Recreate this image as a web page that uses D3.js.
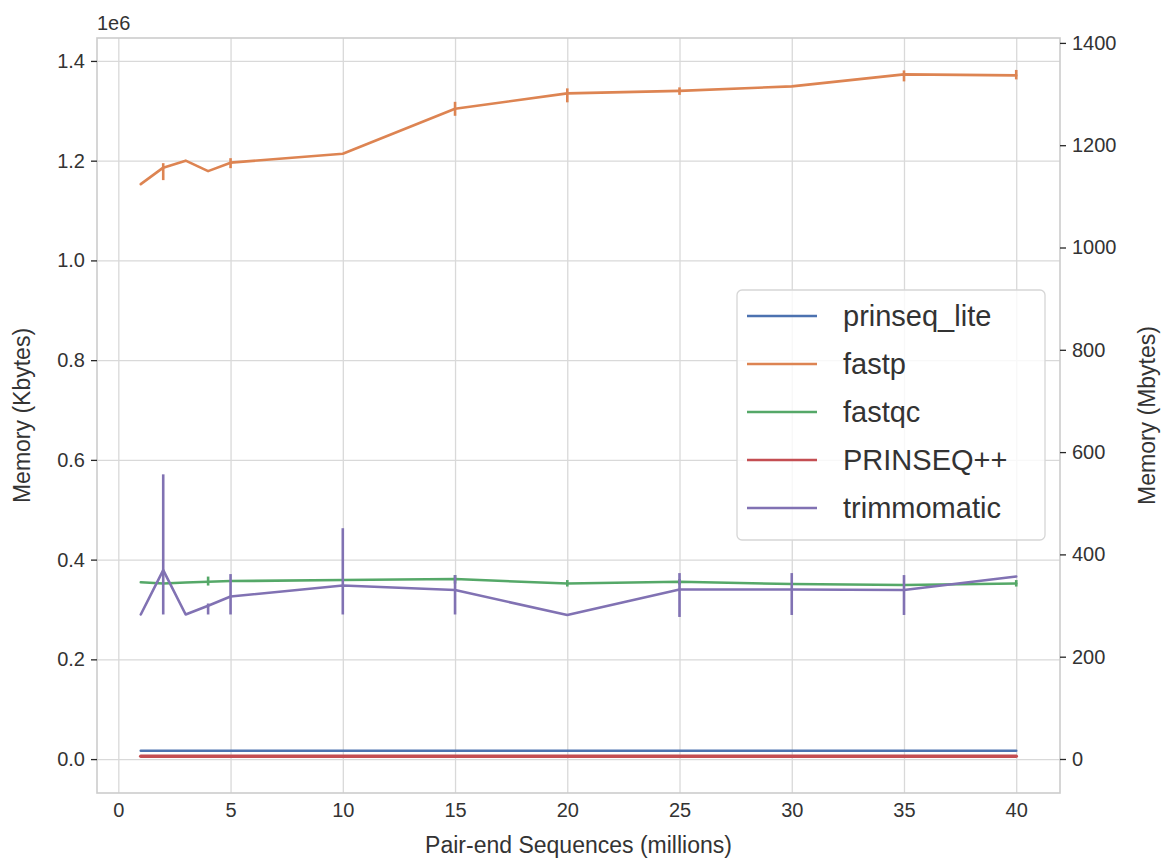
<!DOCTYPE html>
<html lang="en">
<head>
  <meta charset="UTF-8">
  <title>Memory vs Pair-end Sequences</title>
  <script src="https://d3js.org/d3.v7.min.js"></script>
  <style>
    body { margin: 0; background: #fff; }
    svg text { font-family: "Liberation Sans", Arial, sans-serif; fill: #333333; }
    .grid line { stroke: #d9d9d9; stroke-width: 1.3px; }
    .grid path { display: none; }
    .axis path { display: none; }
    .axis line { stroke: #262626; stroke-width: 1.3px; }
    .axis text { font-size: 20px; }
  </style>
</head>
<body>
  <svg id="chart" width="1163" height="861"></svg>

  <script>
    // sequences (millions)
    const xs = [1, 2, 3, 4, 5, 10, 15, 20, 25, 30, 35, 40];

    // mean memory in Kbytes
    const prinseqLite = [16700, 16700, 16700, 16700, 16700, 16700, 16700, 16700, 16700, 16700, 16700, 16700];
    const fastp = [1153000, 1186000, 1200000, 1179000, 1196000, 1214000, 1304000, 1335000, 1340000, 1349000, 1373000, 1371000];
    const fastqc = [354500, 352000, 354000, 355700, 357000, 359000, 361000, 352000, 355700, 351000, 349000, 352000];
    const prinseqPP = [5800, 5800, 5800, 5800, 5800, 5800, 5800, 5800, 5800, 5800, 5800, 5800];
    const trimmomatic = [290000, 379000, 290000, 307500, 326000, 348000, 339000, 289000, 340000, 340000, 339000, 366000];

    // error bar ranges [low, high]; null = no visible bar
    const fastpErr = [null, [1161000, 1195000], null, null, [1185000, 1205000], null,
      [1290000, 1318000], [1317000, 1345000], [1332000, 1347000], null, [1359000, 1381000], [1363000, 1382000]];
    const fastqcErr = [null, null, null, [348000, 366000], null, null,
      [352000, 369000], [346000, 359000], [350000, 361000], null, null, [346000, 359000]];
    const trimErr = [null, [290000, 571000], null, [290000, 312000], [290000, 371000], [290000, 463000],
      [290000, 369000], null, [285000, 373000], [289000, 373000], [289000, 369000], null];

    const seriesNames = ["prinseq_lite", "fastp", "fastqc", "PRINSEQ++", "trimmomatic"];
    const seriesColors = ["#4c72b0", "#dd8452", "#55a868", "#c44e52", "#8172b3"];
    const seriesValues = [prinseqLite, fastp, fastqc, prinseqPP, trimmomatic];
    const seriesErrs = [null, fastpErr, fastqcErr, null, trimErr];
    const seriesWidths = [2.6, 2.6, 2.6, 3.6, 2.6];

    const xTicks = [0, 5, 10, 15, 20, 25, 30, 35, 40];
    const yLeftTicks = [0, 200000, 400000, 600000, 800000, 1000000, 1200000, 1400000];
    const yRightTicks = [0, 200, 400, 600, 800, 1000, 1200, 1400];

    const margin = { top: 38, right: 103, bottom: 68, left: 97 };
    const width = 1163, height = 861;
    const x0 = margin.left, x1 = width - margin.right;
    const y0 = height - margin.bottom, y1 = margin.top;

    const svg = d3.select("#chart");

    const xScale = d3.scaleLinear().domain([-0.95, 41.95]).range([x0, x1]);
    const yLeft = d3.scaleLinear().domain([-68000, 1446000]).range([y0, y1]);
    const yRight = d3.scaleLinear().domain([-66.5, 1409.6]).range([y0, y1]);

    // grid
    svg.append("g").attr("class", "grid")
      .attr("transform", `translate(0, ${y0})`)
      .call(d3.axisBottom(xScale).tickValues(xTicks).tickSize(-(y0 - y1)).tickFormat(""));
    svg.append("g").attr("class", "grid")
      .attr("transform", `translate(${x0}, 0)`)
      .call(d3.axisLeft(yLeft).tickValues(yLeftTicks).tickSize(-(x1 - x0)).tickFormat(""));

    // frame
    svg.append("rect")
      .attr("x", x0).attr("y", y1)
      .attr("width", x1 - x0).attr("height", y0 - y1)
      .attr("fill", "none").attr("stroke", "#cccccc").attr("stroke-width", 1.6);

    // lines + error bars
    const line = d3.line()
      .x((d, i) => xScale(xs[i]))
      .y(d => yLeft(d));

    seriesValues.forEach((vals, k) => {
      const g = svg.append("g");
      const errs = seriesErrs[k];
      if (errs) {
        g.selectAll("line")
          .data(errs.map((e, i) => ({ e, x: xs[i] })).filter(d => d.e))
          .join("line")
          .attr("x1", d => xScale(d.x)).attr("x2", d => xScale(d.x))
          .attr("y1", d => yLeft(d.e[0])).attr("y2", d => yLeft(d.e[1]))
          .attr("stroke", seriesColors[k]).attr("stroke-width", 2.6);
      }
      g.append("path")
        .datum(vals)
        .attr("d", line)
        .attr("fill", "none")
        .attr("stroke", seriesColors[k])
        .attr("stroke-width", seriesWidths[k])
        .attr("stroke-linejoin", "round")
        .attr("stroke-linecap", "round");
    });

    // axes
    svg.append("g").attr("class", "axis")
      .attr("transform", `translate(0, ${y0})`)
      .call(d3.axisBottom(xScale).tickValues(xTicks).tickSize(0).tickPadding(10));

    svg.append("g").attr("class", "axis")
      .attr("transform", `translate(${x0}, 0)`)
      .call(d3.axisLeft(yLeft).tickValues(yLeftTicks).tickSize(6).tickPadding(6)
        .tickFormat(d => (d / 1e6).toFixed(1)));

    svg.append("g").attr("class", "axis")
      .attr("transform", `translate(${x1}, 0)`)
      .call(d3.axisRight(yRight).tickValues(yRightTicks).tickSize(6).tickPadding(6)
        .tickFormat(d3.format("d")));

    // offset text
    svg.append("text")
      .attr("x", 97).attr("y", 30)
      .attr("font-size", 20)
      .text("1e6");

    // axis labels
    svg.append("text")
      .attr("x", (x0 + x1) / 2).attr("y", 853)
      .attr("text-anchor", "middle")
      .attr("font-size", 23)
      .text("Pair-end Sequences (millions)");

    svg.append("text")
      .attr("transform", `translate(30, ${(y0 + y1) / 2}) rotate(-90)`)
      .attr("text-anchor", "middle")
      .attr("font-size", 23)
      .text("Memory (Kbytes)");

    svg.append("text")
      .attr("transform", `translate(1155, ${(y0 + y1) / 2}) rotate(-90)`)
      .attr("text-anchor", "middle")
      .attr("font-size", 23)
      .text("Memory (Mbytes)");

    // legend
    const legend = svg.append("g").attr("transform", "translate(737, 290)");
    legend.append("rect")
      .attr("width", 308).attr("height", 250)
      .attr("rx", 5).attr("ry", 5)
      .attr("fill", "#fff").attr("fill-opacity", 0.8)
      .attr("stroke", "#d6d6d6").attr("stroke-width", 1.3);
    seriesNames.forEach((name, i) => {
      const cy = 26 + i * 48;
      legend.append("line")
        .attr("x1", 10).attr("x2", 80)
        .attr("y1", cy).attr("y2", cy)
        .attr("stroke", seriesColors[i]).attr("stroke-width", 2.6);
      legend.append("text")
        .attr("x", 106).attr("y", cy + 10)
        .attr("font-size", 29)
        .text(name);
    });
  </script>
</body>
</html>
